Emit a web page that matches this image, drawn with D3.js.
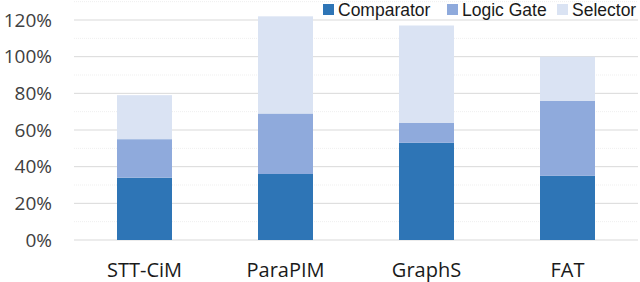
<!DOCTYPE html>
<html><head><meta charset="utf-8">
<script src="https://cdn.jsdelivr.net/npm/d3@7"></script>
<style>body{margin:0;background:#fff}svg{display:block}</style>
</head><body>
<svg id="chart" width="640" height="282"></svg>
<script>
const categories = ["STT-CiM", "ParaPIM", "GraphS", "FAT"];
const seriesNames = ["Comparator", "Logic Gate", "Selector"];
const comparator = [34, 36, 53, 35];
const logicGate = [21, 33, 11, 41];
const selector = [24, 53, 53, 24];
const yTicks = [0, 20, 40, 60, 80, 100, 120];
const minorTicks = [10, 30, 50, 70, 90, 110, 130];
const colors = ["#2E75B6", "#8FAADC", "#DAE3F3"];

(function () {
const svg = d3.select("#chart");
const font = "'Open Sans', sans-serif";
const legendFont = "'Liberation Sans', Arial, sans-serif";
const mLeft = 74, mRight = 638, mTop = 20, mBottom = 240;

const x = d3.scaleBand().domain(categories).range([mLeft, mRight]).paddingInner(0.61).paddingOuter(0.305);
const y = d3.scaleLinear().domain([0, 120]).range([mBottom, mTop]);

const rows = categories.map((c, i) => ({cat: c, "Comparator": comparator[i], "Logic Gate": logicGate[i], "Selector": selector[i]}));
const stacked = d3.stack().keys(seriesNames)(rows);

svg.append("g").selectAll("line").data(minorTicks).join("line")
  .attr("x1", mLeft).attr("x2", mRight).attr("y1", d => y(d)).attr("y2", d => y(d))
  .attr("stroke", "#efefef").attr("stroke-width", 1).attr("stroke-dasharray", "1,1");

svg.append("g").selectAll("line").data(yTicks).join("line")
  .attr("x1", mLeft).attr("x2", mRight).attr("y1", d => y(d)).attr("y2", d => y(d))
  .attr("stroke", "#d9d9d9").attr("stroke-width", 1);

const yAxis = d3.axisLeft(y).tickValues(yTicks).tickFormat(d => d + "%").tickSize(0).tickPadding(0);
const ya = svg.append("g").attr("transform", "translate(52,0)").call(yAxis);
ya.select(".domain").remove();
ya.selectAll("text").attr("font-family", font).attr("font-size", 19).attr("fill", "#404040");

svg.append("g").selectAll("g").data(stacked).join("g")
  .attr("fill", (d, i) => colors[i])
  .selectAll("rect").data(d => d).join("rect")
  .attr("x", d => x(d.data.cat)).attr("width", x.bandwidth())
  .attr("y", d => y(d[1])).attr("height", d => y(d[0]) - y(d[1]));

const xAxis = d3.axisBottom(x).tickSize(0).tickPadding(0);
const xa = svg.append("g").attr("transform", "translate(0,277)").call(xAxis);
xa.select(".domain").remove();
xa.selectAll("text").attr("font-family", font).attr("font-size", 20).attr("fill", "#1a1a1a").attr("y", 0).attr("dy", 0);

const legendX = [323, 447, 557];
const lg = svg.append("g").selectAll("g").data(seriesNames).join("g")
  .attr("transform", (d, i) => `translate(${legendX[i]},4)`);
lg.append("rect").attr("width", 11).attr("height", 11).attr("fill", (d, i) => colors[i]);
lg.append("text").attr("x", 15).attr("y", 12).text(d => d)
  .attr("font-family", legendFont).attr("font-size", 17.5).attr("fill", "#1a1a1a");
})();
</script>
</body></html>
